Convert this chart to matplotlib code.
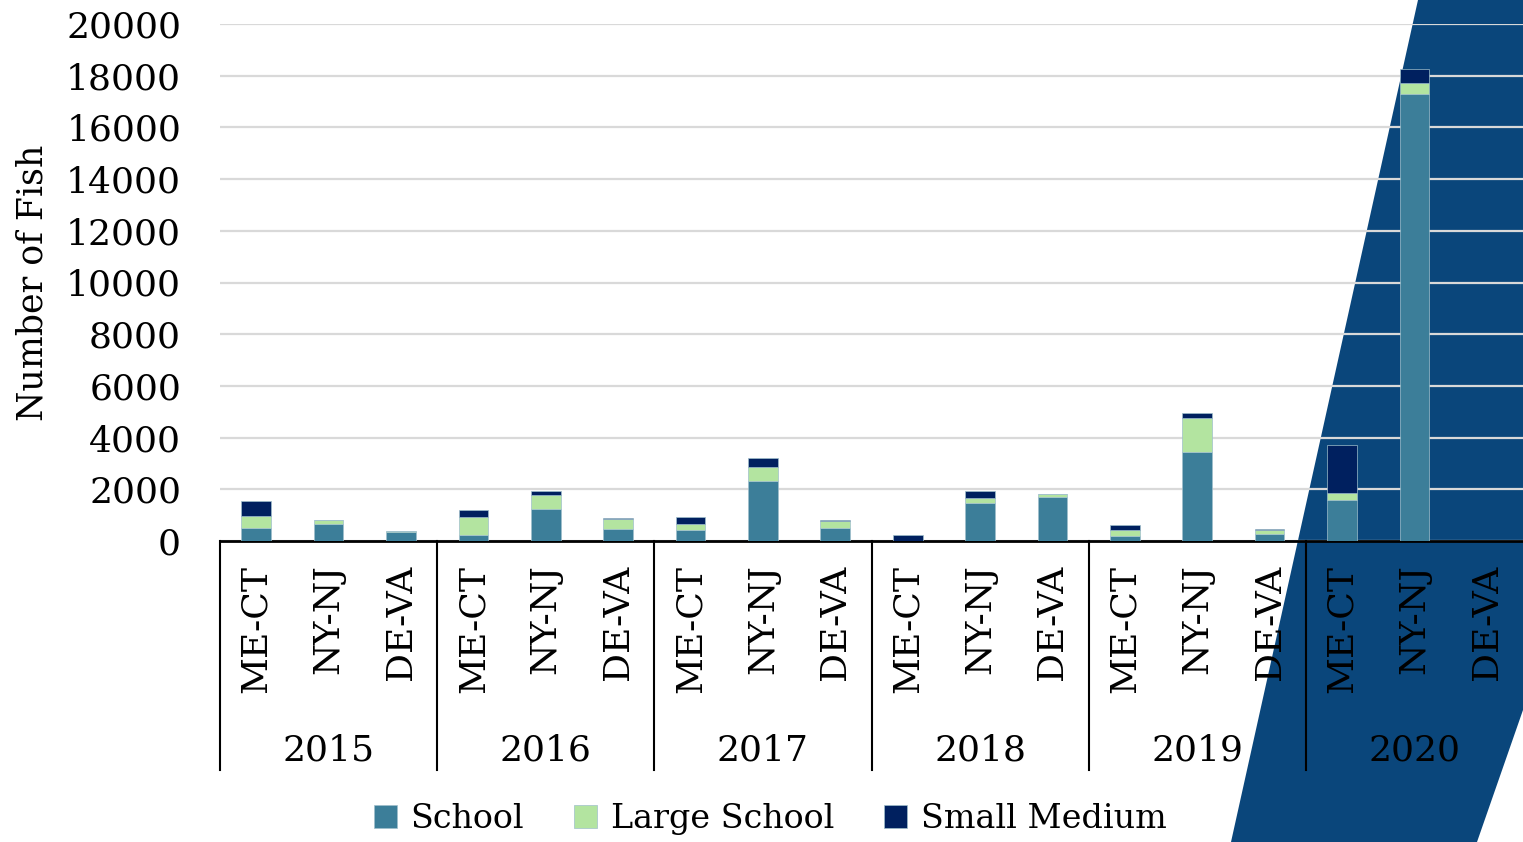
import numpy as np
import matplotlib
matplotlib.use("Agg")
import matplotlib.pyplot as plt
import matplotlib.patches as mpatches
import matplotlib.transforms as mtransforms

# Datos
years = ["2015", "2016", "2017", "2018", "2019", "2020"]
regions = ["ME-CT", "NY-NJ", "DE-VA"]

school = [515, 645, 335,
          220, 1240, 465,
          440, 2310, 515,
          0, 1480, 1715,
          205, 3460, 260,
          1585, 17290, 0]
large_school = [440, 180, 40,
                720, 540, 385,
                230, 540, 260,
                10, 195, 90,
                235, 1310, 165,
                285, 435, 0]
small_medium = [605, 0, 0,
                250, 155, 40,
                260, 360, 50,
                210, 275, 0,
                170, 180, 50,
                1845, 540, 0]

yticks = [0, 2000, 4000, 6000, 8000, 10000, 12000, 14000, 16000, 18000, 20000]

# Colores
c_school = "#3C7E99"
c_large = "#B3E4A0"
c_small = "#00205F"
c_fondo = "#0A467B"

plt.rcParams["font.family"] = ["DejaVu Serif"]

W, H = 1523, 842
fig = plt.figure(figsize=(W / 100, H / 100), dpi=100)

# Forma azul decorativa en el fondo
pts = [(1418, 0), (1523, 0), (1523, 710), (1477, 842), (1231, 842)]
poly = mpatches.Polygon([(x / W, 1 - y / H) for x, y in pts], closed=True,
                        transform=fig.transFigure, facecolor=c_fondo,
                        edgecolor="none", zorder=-1)
fig.add_artist(poly)

ax = fig.add_axes([220 / W, 1 - 541 / H, 1 - 220 / W, (541 - 24) / H])
ax.set_facecolor("none")

n = len(years) * len(regions)
x = np.arange(n)
school = np.array(school)
large_school = np.array(large_school)
small_medium = np.array(small_medium)

w = 0.41
ax.bar(x, school, w, color=c_school, edgecolor="#9fbfcc", linewidth=0.5,
       label="School", zorder=3)
ax.bar(x, large_school, w, bottom=school, color=c_large, edgecolor="#9fbfcc",
       linewidth=0.5, label="Large School", zorder=3)
ax.bar(x, small_medium, w, bottom=school + large_school, color=c_small,
       edgecolor="#9fbfcc", linewidth=0.5, label="Small Medium", zorder=3)

ax.set_xlim(-0.5, n - 0.5)
ax.set_ylim(0, 20000)
ax.set_yticks(yticks)
ax.set_yticklabels([str(v) for v in yticks], fontsize=26)
ax.yaxis.grid(True, color="#D9D9D9", linewidth=1.6, zorder=0)
ax.set_axisbelow(True)
ax.tick_params(axis="y", length=0, pad=28)

ax.set_xticks(x)
ax.set_xticklabels(regions * len(years), rotation=90, fontsize=26)
ax.tick_params(axis="x", length=0, pad=17)

for s in ["top", "right", "left"]:
    ax.spines[s].set_visible(False)
ax.spines["bottom"].set_linewidth(2)
ax.spines["bottom"].set_color("black")

# Etiquetas de año y separadores
trans = mtransforms.blended_transform_factory(ax.transData, ax.transAxes)
for i, yr in enumerate(years):
    centro = i * len(regions) + 1
    ax.text(centro, -0.405, yr, transform=trans, ha="center", va="center",
            fontsize=26)
    ax.plot([i * len(regions) - 0.5] * 2, [0, -0.443], transform=trans,
            color="black", linewidth=1.5, clip_on=False)

ax.set_ylabel("Number of Fish", fontsize=25)
ax.yaxis.set_label_coords(-(220 - 50) / (W - 220), 0.5)

fig.legend(loc="center", bbox_to_anchor=(770 / W, 1 - 819 / H), ncol=3,
           frameon=False, fontsize=24, handlelength=0.7, handleheight=0.7,
           handletextpad=0.4, columnspacing=1.5)

fig.savefig("out.png", dpi=100)
